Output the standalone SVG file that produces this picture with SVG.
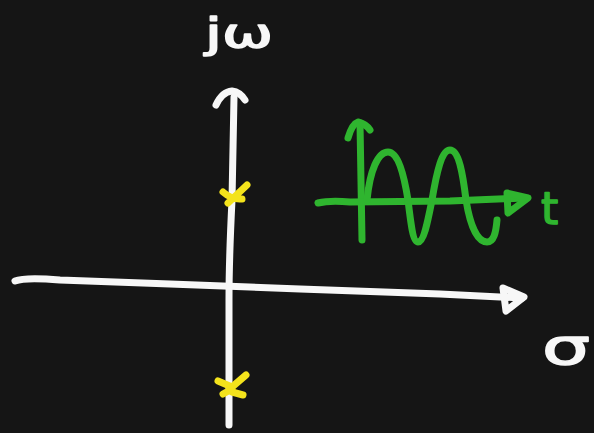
<svg xmlns="http://www.w3.org/2000/svg" width="594" height="433" viewBox="0 0 594 433">
<style>
.s{fill:none;stroke-width:7;stroke-linecap:round;stroke-linejoin:round}
.w{stroke:#f7f7f7}
.g{stroke:#2fb52f}
.y{stroke:#f4e31c}
.lbl{font-family:"DejaVu Sans",sans-serif;stroke-width:1.5;stroke-linejoin:round}
</style>
<rect width="594" height="433" fill="#151515"/>
<g id="s-plane-axes">
<path class="s w" d="M234,97 L232,200 Q229,260 229,300 L229,425"/>
<path class="s w" d="M216,105 Q222,92 232,91 Q240,92 245,100"/>
<path class="s w" d="M15,281 Q25,277 60,280 L170,284 L300,289 L440,294 L522,298"/>
<path class="s w" d="M503,288 L524,297 L506,311 Z"/>
</g>
<g id="poles">
<path class="s y" d="M247,185 L228,203 M223,192 Q232,200 242,199"/>
<path class="s y" d="M218,381 L232,387 M246,375 L232,387 M223,394 L232,389 M232,392 L243,395"/>
</g>
<g id="time-plot">
<path class="s g" d="M362,240 L360,123"/>
<path class="s g" d="M348,138 Q352,124 358,122 Q366,124 370,130"/>
<path class="s g" d="M318,203 Q330,200 350,202 L450,201 L524,198"/>
<path class="s g" d="M507,193 L528,198 L508,213 Z"/>
<path class="s g" d="M367,200 C370,170 378,152 388,152 C398,152 404,175 408,200 C411,225 413,242 418,242 C424,242 428,220 432,200 C437,170 442,150 450,150 C459,150 463,175 466,200 C470,225 477,242 487,242 C494,242 496,232 497,220"/>
</g>
<g id="labels">
<text class="lbl" x="205" y="47" font-size="40" fill="#f7f7f7" stroke="#f7f7f7" textLength="68" lengthAdjust="spacingAndGlyphs">jω</text>
<text class="lbl" x="541" y="224" font-size="44" fill="#2fb52f" stroke="#2fb52f">t</text>
<text class="lbl" x="542" y="364" font-size="50" fill="#f7f7f7" stroke="#f7f7f7" textLength="48" lengthAdjust="spacingAndGlyphs">σ</text>
</g>
</svg>
